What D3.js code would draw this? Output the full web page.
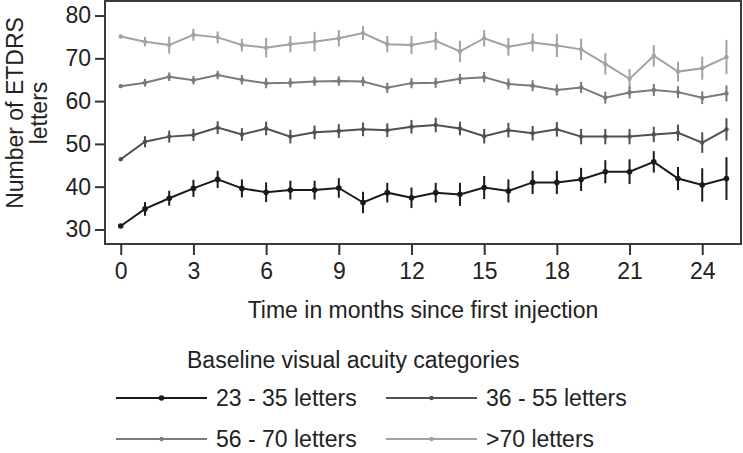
<!DOCTYPE html>
<html>
<head>
<meta charset="utf-8">
<script src="https://cdn.jsdelivr.net/npm/d3@7"></script>
<style>
  body { margin: 0; background: #fff; }
  text { font-family: "Liberation Sans", Arial, sans-serif; fill: #222; }
</style>
</head>
<body>
<svg width="743" height="453"></svg>
<script>
// chart data
const months = d3.range(0, 26);
const xTicks = [0, 3, 6, 9, 12, 15, 18, 21, 24];
const yTicks = [30, 40, 50, 60, 70, 80];
const seriesNames = ['23 - 35 letters', '36 - 55 letters', '56 - 70 letters', '>70 letters'];

const mean1 = [30.8, 34.8, 37.3, 39.6, 41.7, 39.6, 38.7, 39.2, 39.2, 39.7, 36.3, 38.6, 37.4,
               38.6, 38.2, 39.8, 39.0, 41.0, 41.0, 41.7, 43.5, 43.5, 45.8, 41.9, 40.4, 41.9];
const err1  = [0.3, 1.6, 1.75, 2.0, 2.0, 2.1, 2.3, 2.2, 2.2, 2.3, 2.5, 2.3, 2.4,
               2.3, 2.7, 2.7, 2.7, 2.7, 2.7, 2.7, 2.7, 2.9, 2.5, 2.7, 3.9, 5.0];
const mean2 = [46.4, 50.5, 51.7, 52.1, 53.8, 52.2, 53.6, 51.7, 52.7, 53.0, 53.4, 53.2, 54.0,
               54.4, 53.6, 51.8, 53.2, 52.5, 53.4, 51.7, 51.7, 51.7, 52.2, 52.6, 50.3, 53.4];
const err2  = [0.3, 1.3, 1.4, 1.4, 1.5, 1.5, 1.6, 1.6, 1.6, 1.6, 1.6, 1.6, 1.6,
               1.7, 1.6, 1.7, 1.7, 1.7, 1.7, 1.8, 1.8, 1.8, 1.8, 1.9, 2.4, 2.6];
const mean3 = [63.5, 64.3, 65.7, 64.9, 66.1, 65.0, 64.2, 64.3, 64.6, 64.7, 64.6, 63.1, 64.2,
               64.3, 65.2, 65.6, 64.0, 63.6, 62.6, 63.2, 60.8, 62.0, 62.6, 62.1, 60.8, 61.8];
const err3  = [0.3, 0.9, 1.0, 1.0, 1.0, 1.1, 1.2, 1.1, 1.1, 1.1, 1.1, 1.2, 1.2,
               1.2, 1.2, 1.2, 1.3, 1.3, 1.3, 1.3, 1.4, 1.4, 1.4, 1.4, 1.5, 1.9];
const mean4 = [75.1, 73.9, 73.1, 75.5, 74.9, 73.1, 72.5, 73.3, 73.9, 74.7, 75.9, 73.3, 73.1,
               74.1, 71.6, 74.7, 72.7, 73.7, 73.0, 72.1, 68.7, 65.2, 70.6, 66.9, 67.7, 70.3];
const err4  = [0.3, 1.1, 2.0, 1.4, 1.4, 1.5, 2.3, 1.9, 2.3, 1.9, 1.6, 1.9, 2.1,
               2.1, 2.5, 1.9, 2.1, 2.1, 2.7, 2.5, 2.5, 2.3, 2.5, 2.3, 2.7, 4.0];

const means = [mean1, mean2, mean3, mean4];
const errs = [err1, err2, err3, err4];
const colors = ['#1a1a1a', '#505050', '#7a7a7a', '#a2a2a2'];
const markerR = [2.8, 2.2, 2.2, 2.2];
const fontSize = 23;

const svg = d3.select('svg');
const margin = { top: 1, right: 2, bottom: 209, left: 105 };
const width = +svg.attr('width');
const height = +svg.attr('height');
const innerWidth = width - margin.left - margin.right;
const innerHeight = height - margin.top - margin.bottom;

const xScale = d3.scaleLinear().domain([-0.65, 25.6]).range([0, innerWidth]);
const yScale = d3.scaleLinear().domain([26.6, 83.4]).range([innerHeight, 0]);

const g = svg.append('g')
    .attr('transform', `translate(${margin.left}, ${margin.top})`);

// frame
g.append('rect')
    .attr('width', innerWidth)
    .attr('height', innerHeight)
    .attr('fill', 'none')
    .attr('stroke', '#3a3a3a')
    .attr('stroke-width', 2);

const xAxis = d3.axisBottom(xScale).tickValues(xTicks).tickSize(11).tickPadding(8);
const xAxisG = g.append('g')
    .attr('transform', `translate(0, ${innerHeight})`)
    .call(xAxis);
xAxisG.select('.domain').remove();
xAxisG.selectAll('.tick line').attr('stroke', '#333').attr('stroke-width', 2);
xAxisG.selectAll('.tick text').attr('font-size', fontSize).attr('fill', '#222')
    .attr('font-family', '"Liberation Sans", Arial, sans-serif');

const yAxis = d3.axisLeft(yScale).tickValues(yTicks).tickSize(10).tickPadding(4);
const yAxisG = g.append('g').call(yAxis);
yAxisG.select('.domain').remove();
yAxisG.selectAll('.tick line').attr('stroke', '#333').attr('stroke-width', 2);
yAxisG.selectAll('.tick text').attr('font-size', fontSize).attr('fill', '#222')
    .attr('font-family', '"Liberation Sans", Arial, sans-serif');

// y axis label (two lines)
const yLabel = svg.append('text')
    .attr('transform', 'translate(23, 113) rotate(-90)')
    .attr('text-anchor', 'middle')
    .attr('font-size', fontSize);
yLabel.append('tspan').attr('x', 0).attr('y', 0).text('Number of ETDRS');
yLabel.append('tspan').attr('x', 0).attr('y', 24).text('letters');

// x axis label
svg.append('text')
    .attr('x', margin.left + innerWidth / 2)
    .attr('y', 318)
    .attr('text-anchor', 'middle')
    .attr('font-size', fontSize)
    .text('Time in months since first injection');

// series, drawn lightest first
const line = d3.line()
    .x((d, i) => xScale(months[i]))
    .y(d => yScale(d));

for (let s = 3; s >= 0; s--) {
    const sg = g.append('g');
    sg.selectAll('line.err').data(means[s])
        .enter().append('line')
            .attr('class', 'err')
            .attr('x1', (d, i) => xScale(months[i]))
            .attr('x2', (d, i) => xScale(months[i]))
            .attr('y1', (d, i) => yScale(d - errs[s][i]))
            .attr('y2', (d, i) => yScale(d + errs[s][i]))
            .attr('stroke', colors[s])
            .attr('stroke-width', 2);
    sg.append('path')
        .attr('d', line(means[s]))
        .attr('fill', 'none')
        .attr('stroke', colors[s])
        .attr('stroke-width', 2);
    sg.selectAll('circle').data(means[s])
        .enter().append('circle')
            .attr('cx', (d, i) => xScale(months[i]))
            .attr('cy', d => yScale(d))
            .attr('r', markerR[s])
            .attr('fill', colors[s]);
}

// legend
svg.append('text')
    .attr('x', 187)
    .attr('y', 368)
    .attr('font-size', fontSize)
    .text('Baseline visual acuity categories');

const legendPos = [
    { x: 116, y: 398 },
    { x: 386, y: 398 },
    { x: 116, y: 439 },
    { x: 386, y: 439 }
];
seriesNames.forEach((name, s) => {
    const p = legendPos[s];
    const lg = svg.append('g').attr('transform', `translate(${p.x}, ${p.y})`);
    lg.append('line')
        .attr('x1', 0).attr('x2', 91)
        .attr('stroke', colors[s])
        .attr('stroke-width', 2);
    lg.append('circle')
        .attr('cx', 45.5)
        .attr('r', markerR[s])
        .attr('fill', colors[s]);
    lg.append('text')
        .attr('x', 100)
        .attr('y', 8)
        .attr('font-size', fontSize)
        .text(name);
});
</script>
</body>
</html>
